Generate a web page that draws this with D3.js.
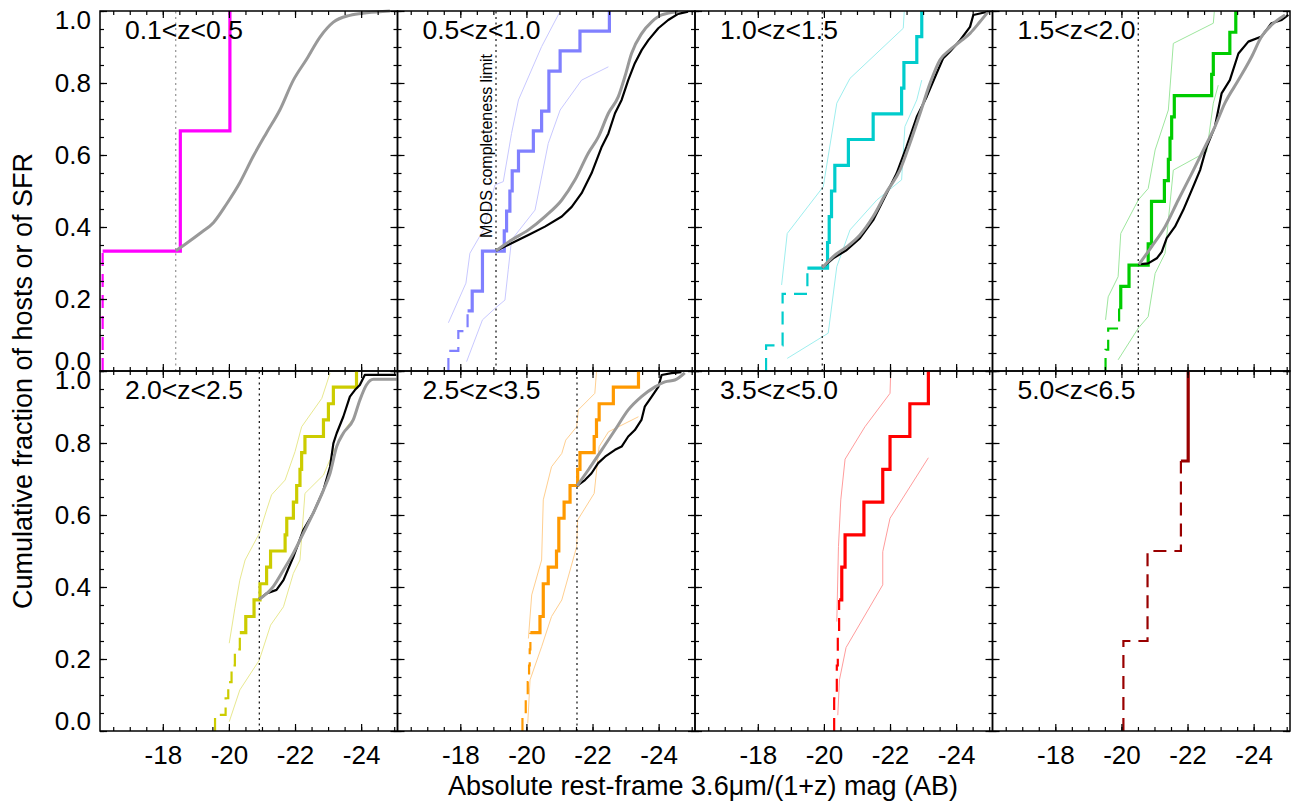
<!DOCTYPE html>
<html>
<head>
<meta charset="utf-8">
<script src="https://cdnjs.cloudflare.com/ajax/libs/d3/7.8.5/d3.min.js"></script>
<style>
  body { margin: 0; background: #fff; }
  text { font-family: "Liberation Sans", Arial, sans-serif; }
</style>
</head>
<body>
<svg id="chart" width="1294" height="804"></svg>
<script>
// redshift bins, completeness limits (mag), tick values
const zLabels = ["0.1<z<0.5", "0.5<z<1.0", "1.0<z<1.5", "1.5<z<2.0",
                 "2.0<z<2.5", "2.5<z<3.5", "3.5<z<5.0", "5.0<z<6.5"];
const completeness = [-18.39, -19.08, -19.95, -20.51, -20.92, -21.53, null, null];
const xTicks = [-18, -20, -22, -24];
const yTicks = [0, 0.2, 0.4, 0.6, 0.8, 1.0];

// host cumulative steps: [mag, fraction after the step]
const p1HostDashed = [[-16.18, 0], [-16.18, 0.333]];
const p1HostSolid = [[-16.18, 0.333], [-18.53, 0.667], [-20.03, 1.0]];
const p2HostDashed = [[-17.64, 0], [-17.64, 0.056], [-17.94, 0.111], [-18.22, 0.167]];
const p2HostSolid = [[-18.22, 0.167], [-18.36, 0.222], [-18.67, 0.333], [-19.33, 0.389], [-19.40, 0.444],
  [-19.50, 0.5], [-19.57, 0.556], [-19.76, 0.611], [-20.21, 0.667], [-20.46, 0.722], [-20.68, 0.833],
  [-21.02, 0.889], [-21.62, 0.944], [-22.51, 1.0]];
const p3HostDashed = [[-18.25, 0], [-18.25, 0.071], [-18.75, 0.214], [-19.50, 0.286]];
const p3HostSolid = [[-19.50, 0.286], [-20.11, 0.357], [-20.16, 0.429], [-20.23, 0.5], [-20.33, 0.571],
  [-20.74, 0.643], [-21.49, 0.714], [-22.35, 0.786], [-22.42, 0.857], [-22.81, 0.929], [-22.96, 1.0]];
const p4HostDashed = [[-19.52, 0], [-19.52, 0.059], [-19.60, 0.118], [-19.93, 0.176]];
const p4HostSolid = [[-19.93, 0.176], [-19.98, 0.235], [-20.23, 0.294], [-20.81, 0.353], [-20.91, 0.471],
  [-21.30, 0.529], [-21.42, 0.588], [-21.47, 0.647], [-21.52, 0.706], [-21.60, 0.765], [-22.73, 0.824],
  [-22.78, 0.882], [-23.28, 0.941], [-23.46, 1.0]];
const p5HostDashed = [[-19.58, 0], [-19.58, 0.045], [-19.90, 0.091], [-19.98, 0.136], [-20.08, 0.182],
  [-20.18, 0.227], [-20.33, 0.273]];
const p5HostSolid = [[-20.33, 0.273], [-20.51, 0.318], [-20.76, 0.364], [-20.94, 0.409], [-21.14, 0.455],
  [-21.26, 0.5], [-21.70, 0.545], [-21.75, 0.591], [-21.95, 0.636], [-22.05, 0.682], [-22.15, 0.727],
  [-22.20, 0.773], [-22.30, 0.818], [-22.86, 0.864], [-23.01, 0.909], [-23.16, 0.955], [-23.86, 1.0]];
const p6HostDashed = [[-19.88, 0], [-19.88, 0.045], [-19.98, 0.091], [-20.04, 0.136], [-20.08, 0.182],
  [-20.10, 0.227], [-20.12, 0.273]];
const p6HostSolid = [[-20.12, 0.273], [-20.41, 0.318], [-20.51, 0.409], [-20.66, 0.455], [-20.91, 0.5],
  [-20.98, 0.591], [-21.14, 0.636], [-21.32, 0.682], [-21.55, 0.727], [-21.62, 0.773], [-22.05, 0.818],
  [-22.12, 0.864], [-22.20, 0.909], [-22.63, 0.955], [-23.39, 1.0]];
const p7HostDashed = [[-20.31, 0], [-20.31, 0.091], [-20.39, 0.182], [-20.42, 0.273], [-20.46, 0.364]];
const p7HostSolid = [[-20.46, 0.364], [-20.54, 0.455], [-20.64, 0.545], [-21.21, 0.636], [-21.78, 0.727],
  [-22.00, 0.818], [-22.60, 0.909], [-23.16, 1.0]];
const p8HostDashed = [[-20.06, 0], [-20.06, 0.25], [-20.79, 0.5], [-21.80, 0.75]];
const p8HostSolid = [[-21.80, 0.75], [-22.02, 1.0]];

// confidence envelopes
const p2Upper = [[-17.64, 0.134], [-18.17, 0.244], [-18.29, 0.327], [-18.70, 0.392], [-19.05, 0.517],
  [-19.30, 0.526], [-19.55, 0.660], [-19.76, 0.753], [-20.46, 0.901], [-20.99, 0.994]];
const p2Lower = [[-18.19, 0.026], [-18.67, 0.142], [-19.05, 0.174], [-19.35, 0.197], [-19.45, 0.281],
  [-19.55, 0.364], [-20.26, 0.447], [-20.66, 0.632], [-21.02, 0.725], [-21.67, 0.808], [-22.48, 0.845]];
const p3Upper = [[-18.72, 0.239], [-18.89, 0.382], [-19.98, 0.512], [-20.39, 0.744], [-20.79, 0.813],
  [-22.40, 0.952], [-22.43, 0.998]];
const p3Lower = [[-18.89, 0.035], [-20.13, 0.105], [-20.39, 0.290], [-20.79, 0.392], [-21.60, 0.475],
  [-22.35, 0.531], [-22.45, 0.679], [-22.81, 0.753], [-22.96, 0.808]];
const p4Upper = [[-19.52, 0.142], [-19.60, 0.206], [-19.90, 0.262], [-19.98, 0.382], [-20.51, 0.475],
  [-20.81, 0.507], [-21.02, 0.614], [-21.42, 0.725], [-21.57, 0.910], [-22.78, 0.966], [-22.81, 0.998]];
const p4Lower = [[-19.90, 0.031], [-20.51, 0.119], [-20.81, 0.151], [-21.02, 0.271], [-21.32, 0.327],
  [-21.57, 0.558], [-22.58, 0.609], [-22.78, 0.744], [-22.93, 0.794]];
const p5Upper = [[-20.01, 0.244], [-20.18, 0.341], [-20.33, 0.419], [-20.49, 0.475], [-20.92, 0.549],
  [-21.14, 0.614], [-21.29, 0.656], [-21.70, 0.697], [-22.00, 0.776], [-22.20, 0.845], [-22.81, 0.924],
  [-23.06, 0.994]];
const p5Lower = [[-20.01, 0.026], [-20.33, 0.114], [-20.92, 0.197], [-21.26, 0.294], [-21.65, 0.345],
  [-21.95, 0.438], [-22.15, 0.475], [-22.30, 0.660], [-22.86, 0.711], [-23.16, 0.776], [-23.56, 0.845],
  [-23.81, 0.873]];
const p6Upper = [[-20.06, 0.257], [-20.16, 0.378], [-20.46, 0.475], [-20.51, 0.642], [-20.76, 0.734],
  [-21.07, 0.771], [-21.19, 0.808], [-21.52, 0.845], [-21.57, 0.892], [-22.07, 0.938], [-22.12, 0.998]];
const p6Lower = [[-20.04, 0.021], [-20.11, 0.142], [-20.46, 0.234], [-20.76, 0.318], [-21.07, 0.364],
  [-21.52, 0.512], [-21.55, 0.586], [-22.05, 0.660], [-22.20, 0.790], [-22.48, 0.831], [-23.39, 0.873]];
const p7Upper = [[-20.39, 0.304], [-20.44, 0.512], [-20.51, 0.642], [-20.64, 0.755], [-21.24, 0.845],
  [-22.00, 0.938], [-22.02, 0.998]];
const p7Lower = [[-20.42, 0.044], [-20.47, 0.142], [-20.67, 0.232], [-21.78, 0.406], [-21.78, 0.498],
  [-22.00, 0.591], [-23.16, 0.759]];

// SFR-weighted (black) and smooth (gray) cumulative curves
const p1Gray = [[-18.39, 0.334], [-18.72, 0.355], [-19.12, 0.382], [-19.53, 0.412], [-19.93, 0.464],
  [-20.33, 0.523], [-20.74, 0.597], [-21.14, 0.662], [-21.54, 0.725], [-21.95, 0.808], [-22.35, 0.866],
  [-22.75, 0.927], [-23.16, 0.969], [-23.66, 0.988], [-24.17, 0.995], [-24.87, 1.0]];
const p2Black = [[-19.08, 0.334], [-19.55, 0.355], [-20.06, 0.378], [-20.56, 0.401], [-21.07, 0.429],
  [-21.37, 0.456], [-21.67, 0.494], [-21.97, 0.549], [-22.28, 0.623], [-22.48, 0.660], [-22.68, 0.716],
  [-22.88, 0.753], [-23.08, 0.808], [-23.28, 0.855], [-23.49, 0.892], [-23.69, 0.919], [-23.99, 0.952],
  [-24.29, 0.975], [-24.59, 0.992], [-24.89, 0.998]];
const p2Gray = [[-19.08, 0.334], [-19.55, 0.364], [-20.06, 0.392], [-20.56, 0.429], [-21.07, 0.475],
  [-21.47, 0.531], [-21.87, 0.605], [-22.18, 0.651], [-22.48, 0.716], [-22.78, 0.762], [-22.98, 0.818],
  [-23.18, 0.882], [-23.49, 0.938], [-23.79, 0.970], [-24.09, 0.989], [-24.59, 0.998]];
const p3Black = [[-19.95, 0.287], [-20.28, 0.313], [-20.69, 0.336], [-21.09, 0.369], [-21.49, 0.419],
  [-21.90, 0.494], [-22.20, 0.549], [-22.50, 0.623], [-22.81, 0.706], [-23.11, 0.762], [-23.41, 0.827],
  [-23.61, 0.869], [-23.81, 0.887], [-24.12, 0.919], [-24.42, 0.956], [-24.52, 0.989], [-24.82, 0.995],
  [-24.97, 0.998]];
const p3Gray = [[-19.95, 0.287], [-20.28, 0.318], [-20.69, 0.345], [-21.09, 0.378], [-21.49, 0.429],
  [-21.90, 0.498], [-22.30, 0.558], [-22.60, 0.632], [-22.91, 0.716], [-23.21, 0.799], [-23.51, 0.864],
  [-23.81, 0.892], [-24.12, 0.915], [-24.42, 0.938], [-24.72, 0.970], [-24.97, 0.998]];
const p4Black = [[-20.51, 0.296], [-20.81, 0.299], [-21.07, 0.313], [-21.22, 0.331], [-21.37, 0.369],
  [-21.62, 0.401], [-21.87, 0.447], [-22.13, 0.503], [-22.38, 0.558], [-22.58, 0.623], [-22.83, 0.679],
  [-23.03, 0.771], [-23.28, 0.808], [-23.54, 0.882], [-23.84, 0.915], [-24.24, 0.929], [-24.54, 0.966],
  [-24.85, 0.975], [-25.05, 0.989]];
const p4Gray = [[-20.53, 0.296], [-20.91, 0.345], [-21.32, 0.401], [-21.72, 0.475], [-22.13, 0.549],
  [-22.53, 0.623], [-22.83, 0.679], [-23.13, 0.744], [-23.54, 0.808], [-23.94, 0.873], [-24.24, 0.929],
  [-24.54, 0.961], [-24.95, 0.989]];
const p5Black = [[-20.92, 0.366], [-21.14, 0.382], [-21.44, 0.392], [-21.65, 0.419], [-21.95, 0.484],
  [-22.25, 0.558], [-22.55, 0.605], [-22.86, 0.669], [-23.06, 0.734], [-23.16, 0.799], [-23.26, 0.827],
  [-23.46, 0.873], [-23.66, 0.929], [-23.81, 0.947], [-23.96, 0.961], [-24.11, 0.989], [-25.06, 0.989]];
const p5Gray = [[-20.92, 0.366], [-21.34, 0.401], [-21.65, 0.447], [-21.95, 0.494], [-22.25, 0.549],
  [-22.55, 0.605], [-22.86, 0.669], [-23.06, 0.716], [-23.26, 0.790], [-23.46, 0.827], [-23.76, 0.864],
  [-23.96, 0.919], [-24.16, 0.961], [-24.37, 0.977], [-25.07, 0.977]];
const p6Black = [[-21.53, 0.681], [-21.77, 0.697], [-21.97, 0.716], [-22.17, 0.744], [-22.38, 0.762],
  [-22.68, 0.781], [-22.88, 0.790], [-23.08, 0.818], [-23.28, 0.836], [-23.48, 0.864], [-23.58, 0.901],
  [-23.79, 0.929], [-23.99, 0.956], [-24.09, 0.989], [-24.39, 0.994], [-24.69, 0.997]];
const p6Gray = [[-21.53, 0.681], [-21.87, 0.725], [-22.28, 0.781], [-22.68, 0.836], [-23.08, 0.892],
  [-23.48, 0.929], [-23.89, 0.956], [-24.19, 0.970], [-24.49, 0.975], [-24.79, 0.995]];

const hostColors = ["#ff00ff", "#8080ff", "#00cccc", "#00cc00", "#cccc00", "#ff9900", "#ff0000", "#990000"];
const envColors = [null, "#c8c8ff", "#9eeeee", "#9ee69e", "#e8e890", "#ffcf90", "#ff9c9c", null];

const panels = [
  {dashed: p1HostDashed, solid: p1HostSolid, upper: [], lower: [], black: [], gray: p1Gray},
  {dashed: p2HostDashed, solid: p2HostSolid, upper: p2Upper, lower: p2Lower, black: p2Black, gray: p2Gray},
  {dashed: p3HostDashed, solid: p3HostSolid, upper: p3Upper, lower: p3Lower, black: p3Black, gray: p3Gray},
  {dashed: p4HostDashed, solid: p4HostSolid, upper: p4Upper, lower: p4Lower, black: p4Black, gray: p4Gray},
  {dashed: p5HostDashed, solid: p5HostSolid, upper: p5Upper, lower: p5Lower, black: p5Black, gray: p5Gray},
  {dashed: p6HostDashed, solid: p6HostSolid, upper: p6Upper, lower: p6Lower, black: p6Black, gray: p6Gray},
  {dashed: p7HostDashed, solid: p7HostSolid, upper: p7Upper, lower: p7Lower, black: [], gray: []},
  {dashed: p8HostDashed, solid: p8HostSolid, upper: [], lower: [], black: [], gray: []}
];

const svg = d3.select("#chart");
const padLeft = 100, padTop = 11, pw = 297.5, ph = 360;

const x = d3.scaleLinear().domain([-16.1, -25.1]).range([0, pw]);
const y = d3.scaleLinear().domain([0, 1]).range([ph, 0]);

const xMinor = d3.range(-16.5, -25.01, -0.5);
const yMinor = d3.range(0, 1.001, 0.05);

const stepLine = d3.line().x(d => x(d[0])).y(d => y(d[1])).curve(d3.curveStepAfter);
const plainLine = d3.line().x(d => x(d[0])).y(d => y(d[1]));
const smoothLine = d3.line().x(d => x(d[0])).y(d => y(d[1])).curve(d3.curveMonotoneX);

function styleAxis(sel) {
  sel.select(".domain").remove();
  sel.selectAll("line").attr("stroke", "#000").attr("stroke-width", 1.2);
  sel.attr("font-size", 26).attr("font-family", "Liberation Sans, Arial, sans-serif");
  sel.selectAll("text").attr("fill", "#000");
}

panels.forEach((p, i) => {
  const col = i % 4, row = Math.floor(i / 4);
  const g = svg.append("g").attr("transform", `translate(${padLeft + col * pw},${padTop + row * ph})`);

  g.append("clipPath").attr("id", "clip" + i)
    .append("rect").attr("x", 0).attr("y", -2).attr("width", pw).attr("height", ph + 2);
  const plot = g.append("g").attr("clip-path", `url(#clip${i})`);

  // envelopes
  [p.upper, p.lower].forEach(env => {
    if (env.length) plot.append("path").attr("d", plainLine(env))
      .attr("fill", "none").attr("stroke", envColors[i]).attr("stroke-width", 1);
  });

  // completeness limit
  if (completeness[i] !== null) {
    plot.append("line")
      .attr("x1", x(completeness[i])).attr("x2", x(completeness[i]))
      .attr("y1", y(0)).attr("y2", y(1))
      .attr("stroke", i === 0 ? "#999" : "#222").attr("stroke-width", 1.3)
      .attr("stroke-dasharray", "2,3.5");
  }

  // host distribution
  plot.append("path").attr("d", stepLine(p.dashed))
    .attr("fill", "none").attr("stroke", hostColors[i]).attr("stroke-width", 2.2)
    .attr("stroke-dasharray", "13,8");
  plot.append("path").attr("d", stepLine(p.solid))
    .attr("fill", "none").attr("stroke", hostColors[i]).attr("stroke-width", 3.2);

  if (p.black.length) plot.append("path").attr("d", plainLine(p.black))
    .attr("fill", "none").attr("stroke", "#000").attr("stroke-width", 2.2)
    .attr("stroke-linejoin", "round");
  if (p.gray.length) plot.append("path").attr("d", smoothLine(p.gray))
    .attr("fill", "none").attr("stroke", "#999").attr("stroke-width", 3)
    .attr("stroke-linejoin", "round");

  // frame
  g.append("rect").attr("width", pw).attr("height", ph)
    .attr("fill", "none").attr("stroke", "#000").attr("stroke-width", 1.5);

  // ticks, all pointing inward
  const tickLen = [4, 7];
  [xMinor, xTicks].forEach((vals, k) => {
    g.append("g").attr("transform", `translate(0,${ph})`)
      .call(d3.axisBottom(x).tickValues(vals).tickSize(-tickLen[k])
        .tickPadding(14.5).tickFormat(k === 1 && row === 1 ? (d => String(d)) : ""))
      .call(styleAxis);
    g.append("g")
      .call(d3.axisTop(x).tickValues(vals).tickSize(-tickLen[k]).tickFormat(""))
      .call(styleAxis);
  });
  [yMinor, yTicks].forEach((vals, k) => {
    const ax = g.append("g")
      .call(d3.axisLeft(y).tickValues(vals).tickSize(-tickLen[k])
        .tickPadding(9).tickFormat(k === 1 && col === 0 ? d3.format(".1f") : ""))
      .call(styleAxis);
    if (k === 1 && col === 0) {
      ax.selectAll("text").attr("transform", d => d === 0 ? "translate(0,-10)" : d === 1 ? "translate(0,9)" : null);
    }
    g.append("g").attr("transform", `translate(${pw},0)`)
      .call(d3.axisRight(y).tickValues(vals).tickSize(-tickLen[k]).tickFormat(""))
      .call(styleAxis);
  });

  // redshift label
  g.append("text").attr("x", 25).attr("y", 28)
    .attr("font-size", 26.5).attr("fill", "#000").text(zLabels[i]);

  if (i === 1) {
    g.append("text")
      .attr("transform", `translate(${x(completeness[i]) - 4},${y(0.625)}) rotate(-90)`)
      .attr("text-anchor", "middle").attr("font-size", 16).attr("fill", "#000")
      .text("MODS completeness limit");
  }
});

// axis titles
svg.append("text").attr("x", 703).attr("y", 795).attr("text-anchor", "middle")
  .attr("font-size", 27).attr("fill", "#000")
  .text("Absolute rest-frame 3.6\u03bcm/(1+z) mag (AB)");
svg.append("text").attr("transform", "translate(32,381) rotate(-90)")
  .attr("text-anchor", "middle").attr("font-size", 27).attr("fill", "#000")
  .text("Cumulative fraction of hosts or of SFR");
</script>
</body>
</html>
